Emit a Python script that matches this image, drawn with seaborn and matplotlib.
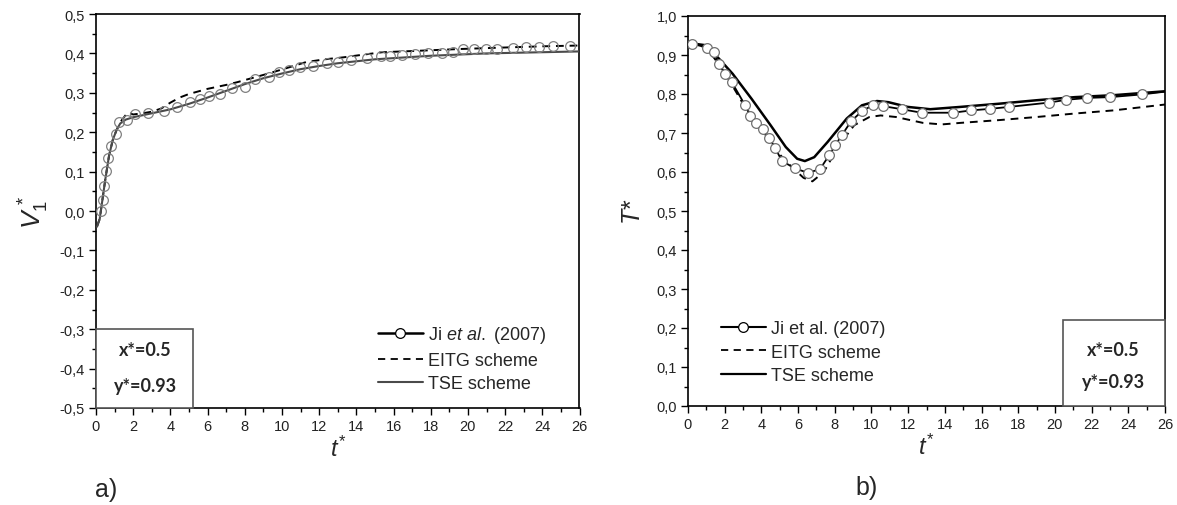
import numpy as np
import pandas as pd
import matplotlib
matplotlib.use("Agg")
import matplotlib.pyplot as plt
from matplotlib.lines import Line2D
from matplotlib.patches import Rectangle
from matplotlib.ticker import MultipleLocator, FuncFormatter
import seaborn as sns

# ---------------- data: panel a) V1* ----------------
ji_a_t = [0.27, 0.37, 0.45, 0.54, 0.64, 0.82, 1.07, 1.26, 1.67, 2.08, 2.8, 3.66, 4.38, 5.04,
          5.58, 6.07, 6.65, 7.31, 7.99, 8.54, 9.28, 9.84, 10.4, 10.97, 11.69, 12.41, 13.03,
          13.71, 14.58, 15.3, 15.81, 16.43, 17.15, 17.87, 18.59, 19.2, 19.72, 20.34, 20.96,
          21.57, 22.4, 23.1, 23.84, 24.56, 25.49]
ji_a_v = [0.0, 0.028, 0.064, 0.102, 0.135, 0.165, 0.196, 0.226, 0.230, 0.245, 0.249, 0.253,
          0.264, 0.277, 0.285, 0.293, 0.296, 0.312, 0.315, 0.336, 0.341, 0.354, 0.357, 0.365,
          0.369, 0.376, 0.379, 0.384, 0.388, 0.393, 0.393, 0.396, 0.399, 0.401, 0.401, 0.403,
          0.411, 0.411, 0.411, 0.410, 0.414, 0.416, 0.417, 0.420, 0.420]

tse_a_t = [0.05, 0.2, 0.35, 0.5, 0.7, 0.9, 1.1, 1.3, 1.6, 2.0, 2.5, 3.0, 4.0, 5.0, 6.0, 7.0,
           8.0, 9.0, 10.0, 11.0, 12.0, 13.0, 14.0, 15.0, 16.0, 17.0, 18.0, 19.0, 20.0, 21.0,
           22.0, 23.0, 24.0, 25.0, 26.0]
tse_a_v = [-0.04, -0.02, 0.03, 0.08, 0.14, 0.18, 0.205, 0.222, 0.232, 0.238, 0.243, 0.248,
           0.258, 0.272, 0.288, 0.305, 0.322, 0.337, 0.349, 0.36, 0.368, 0.375, 0.38, 0.385,
           0.388, 0.391, 0.394, 0.396, 0.398, 0.4, 0.401, 0.402, 0.403, 0.404, 0.405]

eitg_a_t = [0.05, 0.2, 0.35, 0.5, 0.7, 0.9, 1.1, 1.3, 1.7, 2.0, 2.5, 3.0, 3.5, 4.0, 4.5, 5.0,
            6.0, 7.0, 7.6, 9.2, 10.2, 11.3, 12.3, 13.3, 14.4, 15.4, 17.0, 19.5, 22.0, 24.0, 26.0]
eitg_a_v = [-0.04, -0.02, 0.03, 0.08, 0.14, 0.18, 0.205, 0.225, 0.25, 0.245, 0.248, 0.252,
            0.26, 0.275, 0.288, 0.297, 0.31, 0.32, 0.327, 0.348, 0.362, 0.378, 0.385, 0.39,
            0.397, 0.403, 0.406, 0.411, 0.415, 0.418, 0.42]

# ---------------- data: panel b) T* ----------------
ji_b_t = [0.21, 1.04, 1.39, 1.70, 2.01, 2.38, 3.09, 3.40, 3.71, 4.08, 4.44, 4.75, 5.12, 5.85,
          6.53, 7.19, 7.71, 8.02, 8.38, 8.89, 9.48, 10.06, 10.62, 11.65, 12.73, 14.45, 15.45,
          16.48, 17.52, 19.68, 20.61, 21.77, 23.02, 24.76, 26.0]
ji_b_v = [0.929, 0.919, 0.908, 0.876, 0.852, 0.831, 0.773, 0.744, 0.726, 0.711, 0.687, 0.662,
          0.628, 0.609, 0.598, 0.607, 0.644, 0.668, 0.694, 0.730, 0.756, 0.771, 0.769, 0.761,
          0.752, 0.752, 0.758, 0.762, 0.767, 0.778, 0.785, 0.790, 0.792, 0.799, 0.806]

tse_b_t = [0.0, 0.97, 1.7, 2.43, 3.46, 4.5, 5.33, 5.95, 6.37, 6.88, 7.61, 8.65, 9.48, 10.3,
           10.93, 11.96, 13.2, 14.87, 16.94, 19.0, 21.1, 23.2, 26.0]
tse_b_v = [0.931, 0.925, 0.89, 0.852, 0.788, 0.72, 0.664, 0.634, 0.628, 0.638, 0.677, 0.737,
           0.771, 0.782, 0.779, 0.767, 0.761, 0.767, 0.775, 0.784, 0.792, 0.797, 0.807]

eitg_b_t = [0.0, 1.0, 2.0, 3.0, 4.0, 5.0, 5.74, 6.3, 6.78, 7.4, 8.23, 9.06, 9.89, 10.5, 11.34,
            12.8, 13.83, 14.87, 16.94, 19.0, 21.1, 23.2, 26.0]
eitg_b_v = [0.93, 0.92, 0.855, 0.775, 0.71, 0.645, 0.609, 0.585, 0.576, 0.6, 0.668, 0.72,
            0.741, 0.745, 0.741, 0.726, 0.722, 0.726, 0.733, 0.741, 0.75, 0.758, 0.773]

series_labels_a = [r"Ji $\mathit{et\ al.}$ (2007)", "EITG scheme", "TSE scheme"]
series_labels_b = ["Ji et al. (2007)", "EITG scheme", "TSE scheme"]
x_ticks = list(range(0, 27, 2))
y_ticks_a = [round(-0.5 + 0.1 * i, 1) for i in range(11)]
y_ticks_b = [round(0.1 * i, 1) for i in range(11)]
box_texts = ["x*=0.5", "y*=0.93"]
panel_tags = ["a)", "b)"]

# ---------------- style ----------------
sns.set_style("white")
plt.rcParams["font.family"] = ["Liberation Sans", "DejaVu Sans"]
plt.rcParams["mathtext.fontset"] = "custom"
plt.rcParams["mathtext.rm"] = "Liberation Sans"
plt.rcParams["mathtext.it"] = "Liberation Sans:italic"
plt.rcParams["mathtext.bf"] = "Liberation Sans:bold"

fig = plt.figure(figsize=(11.77, 5.06), dpi=100)
axA = fig.add_axes([96 / 1177, 1 - 409 / 506, 483.5 / 1177, 394 / 506])
axB = fig.add_axes([688 / 1177, 1 - 407 / 506, 477 / 1177, 390 / 506])

comma = FuncFormatter(lambda v, p: f"{v:.1f}".replace(".", ","))

def style_axes(ax, yticks, ymin, ymax):
    ax.set_xlim(0, 26)
    ax.set_ylim(ymin, ymax)
    ax.set_xticks(x_ticks)
    ax.set_yticks(yticks)
    ax.xaxis.set_minor_locator(MultipleLocator(1))
    ax.yaxis.set_minor_locator(MultipleLocator(0.05))
    ax.yaxis.set_major_formatter(comma)
    ax.tick_params(axis="both", which="major", direction="out", length=5, width=1.0,
                   labelsize=10.5, color="black", pad=3, bottom=True, left=True,
                   top=False, right=False)
    ax.tick_params(axis="both", which="minor", direction="out", length=3, width=1.0,
                   color="black", bottom=True, left=True, top=False, right=False)
    for s in ax.spines.values():
        s.set_visible(True)
        s.set_color("black")
        s.set_linewidth(1.2)
    ax.set_xlabel(r"$t^{*}$", fontsize=17, labelpad=2)

# ---------------- panel a ----------------
dfa_ji = pd.DataFrame({"t": ji_a_t, "v": ji_a_v})
dfa_tse = pd.DataFrame({"t": tse_a_t, "v": tse_a_v})
dfa_eitg = pd.DataFrame({"t": eitg_a_t, "v": eitg_a_v})
sns.lineplot(data=dfa_eitg, x="t", y="v", ax=axA, color="black", lw=1.4,
             linestyle=(0, (4, 3)), sort=False, zorder=2)
sns.lineplot(data=dfa_tse, x="t", y="v", ax=axA, color="#4a4a4a", lw=1.5, sort=False, zorder=3)
sns.lineplot(data=dfa_ji, x="t", y="v", ax=axA, color="#8a8a8a", lw=0, marker="o",
             markersize=7, markerfacecolor="none", markeredgecolor="#808080",
             markeredgewidth=0.9, sort=False, zorder=4)
style_axes(axA, y_ticks_a, -0.5, 0.5)
axA.set_ylabel(r"$V_{1}^{\,*}$", fontsize=19, labelpad=6)
axA.add_patch(Rectangle((0, -0.5), 5.2, 0.2, facecolor="white", edgecolor="#555555",
                        lw=1.2, zorder=5, clip_on=False))
axA.text(2.65, -0.352, box_texts[0], ha="center", va="center", fontsize=13,
         fontweight="bold", family=["Lato", "DejaVu Sans"], zorder=6)
axA.text(2.65, -0.443, box_texts[1], ha="center", va="center", fontsize=13,
         fontweight="bold", family=["Lato", "DejaVu Sans"], zorder=6)
hA = [Line2D([], [], color="black", lw=1.8, marker="o", markersize=7,
             markerfacecolor="white", markeredgecolor="black", markeredgewidth=0.9),
      Line2D([], [], color="black", lw=1.3, linestyle=(0, (4, 3))),
      Line2D([], [], color="#4a4a4a", lw=1.5)]
axA.legend(hA, series_labels_a, loc="upper left", bbox_to_anchor=(0.583, 0.212),
           frameon=False, fontsize=13, handlelength=2.5, handletextpad=0.3,
           labelspacing=0.36, borderpad=0, borderaxespad=0)

# ---------------- panel b ----------------
dfb_ji = pd.DataFrame({"t": ji_b_t, "v": ji_b_v})
dfb_tse = pd.DataFrame({"t": tse_b_t, "v": tse_b_v})
dfb_eitg = pd.DataFrame({"t": eitg_b_t, "v": eitg_b_v})
sns.lineplot(data=dfb_eitg, x="t", y="v", ax=axB, color="black", lw=1.4,
             linestyle=(0, (4, 3)), sort=False, zorder=2)
sns.lineplot(data=dfb_tse, x="t", y="v", ax=axB, color="black", lw=1.8, sort=False, zorder=3)
sns.lineplot(data=dfb_ji, x="t", y="v", ax=axB, color="black", lw=1.3, marker="o",
             markersize=7, markerfacecolor="white", markeredgecolor="#707070",
             markeredgewidth=0.9, markevery=list(range(len(ji_b_t) - 1)), sort=False, zorder=4)
style_axes(axB, y_ticks_b, 0.0, 1.0)
axB.set_ylabel("$T$*", fontsize=18, labelpad=8)
axB.add_patch(Rectangle((20.44, 0.0), 5.56, 0.22, facecolor="white", edgecolor="#555555",
                        lw=1.2, zorder=5, clip_on=False))
axB.text(23.2, 0.146, box_texts[0], ha="center", va="center", fontsize=13,
         fontweight="bold", family=["Lato", "DejaVu Sans"], zorder=6)
axB.text(23.2, 0.062, box_texts[1], ha="center", va="center", fontsize=13,
         fontweight="bold", family=["Lato", "DejaVu Sans"], zorder=6)
hB = [Line2D([], [], color="black", lw=1.5, marker="o", markersize=7,
             markerfacecolor="white", markeredgecolor="black", markeredgewidth=0.9),
      Line2D([], [], color="black", lw=1.3, linestyle=(0, (4, 3))),
      Line2D([], [], color="black", lw=1.6)]
axB.legend(hB, series_labels_b, loc="upper left", bbox_to_anchor=(0.069, 0.22),
           frameon=False, fontsize=13, handlelength=2.5, handletextpad=0.3,
           labelspacing=0.36, borderpad=0, borderaxespad=0)

for ax in (axA, axB):
    for lab in ax.get_xticklabels() + ax.get_yticklabels():
        lab.set_color("#222222")

fig.text(95 / 1177, 1 - 490 / 506, panel_tags[0], fontsize=18, ha="left", va="center")
fig.text(855 / 1177, 1 - 488 / 506, panel_tags[1], fontsize=18, ha="left", va="center")

fig.savefig("out.png", dpi=100)
